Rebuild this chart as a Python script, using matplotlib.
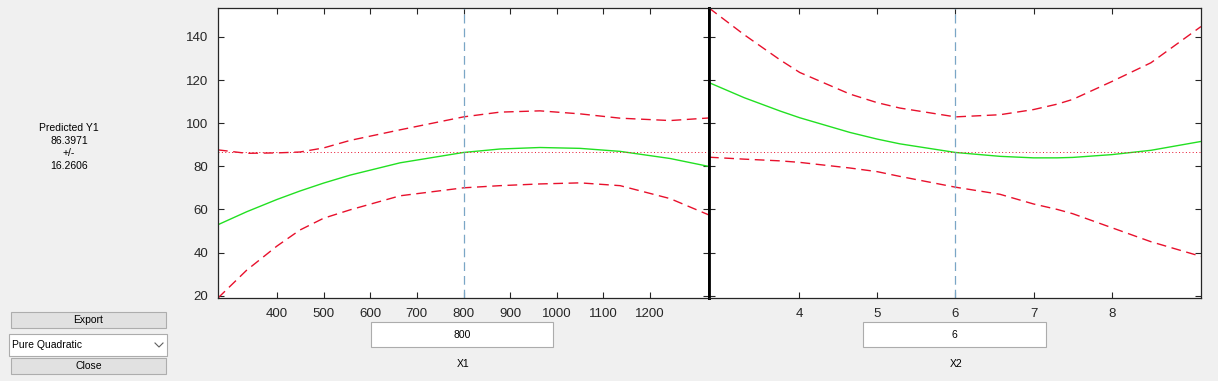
import matplotlib
matplotlib.use("Agg")
import matplotlib.pyplot as plt
from matplotlib.patches import Rectangle
from matplotlib.lines import Line2D

plt.rcParams['font.family'] = ['Liberation Sans', 'DejaVu Sans']

# values (response surface tool, pure quadratic)
x1 = [273.5, 335, 400, 449, 500, 557, 664, 800, 878, 964, 1050, 1136, 1243, 1326.5]
pred1 = [52.9, 58.9, 64.6, 68.5, 72.2, 75.9, 81.6, 86.4, 88.0, 88.7, 88.3, 86.9, 83.6, 79.9]
upper1 = [87.6, 86.0, 86.2, 86.6, 88.5, 92.0, 96.9, 102.9, 105.1, 105.7, 104.3, 102.3, 101.2, 102.4]
lower1 = [18.9, 31.8, 43.0, 50.4, 55.9, 59.8, 66.3, 70.0, 71.0, 71.8, 72.3, 71.0, 65.0, 57.4]

x2 = [2.85, 3.3, 3.76, 4.01, 4.65, 5.0, 5.29, 6.0, 6.57, 7.0, 7.3, 7.5, 8.0, 8.5, 9.14]
pred2 = [118.8, 111.8, 105.6, 102.5, 95.7, 92.6, 90.4, 86.4, 84.6, 83.9, 83.9, 84.1, 85.4, 87.4, 91.5]
upper2 = [153.4, 141.0, 129.3, 123.5, 113.5, 109.5, 107.0, 102.9, 103.9, 106.3, 108.8, 111.0, 119.3, 128.0, 144.8]
lower2 = [84.2, 83.3, 82.5, 81.8, 79.2, 77.5, 75.3, 70.3, 67.0, 62.5, 60.0, 58.0, 51.5, 45.0, 38.2]

x1_ticks = [400, 500, 600, 700, 800, 900, 1000, 1100, 1200]
x2_ticks = [4, 5, 6, 7, 8]
y_ticks = [20, 40, 60, 80, 100, 120, 140]

y_pred = 86.3971
y_ci = 16.2606
x1_cur = 800
x2_cur = 6

W, H = 1218, 381
BG = '#f0f0f0'
TXT = '#262626'


def fx(px):
    return px / W


def fy(py):
    return 1 - py / H


fig = plt.figure(figsize=(W / 100, H / 100), dpi=100, facecolor=BG)


def make_axes(x0, x1p, xlim, xticks, cur, xs, pred, up, lo, left_labels):
    ax = fig.add_axes([fx(x0), fy(298), fx(x1p - x0), (298 - 8) / H])
    ax.set_facecolor('white')
    ax.plot(xs, pred, color='#22e022', lw=1.0)
    ax.plot(xs, up, color='#e8102c', lw=1.0, ls=(0, (7, 4)))
    ax.plot(xs, lo, color='#e8102c', lw=1.0, ls=(0, (7, 4)))
    ax.axhline(y_pred, color='#e8102c', lw=0.7, ls=(0, (1, 2.5)))
    ax.axvline(cur, color='#7aa6c6', lw=0.9, ls=(0, (7, 4)))
    ax.set_xlim(*xlim)
    ax.set_ylim(18.9, 153.4)
    ax.set_xticks(xticks)
    ax.set_yticks(y_ticks)
    ax.tick_params(direction='in', length=4, width=0.8, colors=TXT,
                   top=True, right=True, labelsize=9.5, pad=7,
                   labelleft=left_labels)
    for s in ax.spines.values():
        s.set_color(TXT)
        s.set_linewidth(0.9)
    return ax


ax1 = make_axes(218, 709, (273.5, 1326.5), x1_ticks, x1_cur, x1, pred1, upper1, lower1, True)
ax2 = make_axes(709, 1201, (2.85, 9.14), x2_ticks, x2_cur, x2, pred2, upper2, lower2, False)
ax1.spines['right'].set_linewidth(2.0)
ax1.spines['right'].set_color('black')
ax2.spines['left'].set_linewidth(2.0)
ax2.spines['left'].set_color('black')

# prediction readout
for i, s in enumerate(['Predicted Y1', f'{y_pred:.4f}', '+/-', f'{y_ci:.4f}']):
    fig.text(fx(69), fy(128 + 12.7 * i), s, ha='center', va='center', fontsize=7.5, color='black')


def box(x0, y0, x1p, y1p, face, edge):
    fig.patches.append(Rectangle((fx(x0), fy(y1p)), fx(x1p - x0), (y1p - y0) / H,
                                 transform=fig.transFigure, facecolor=face,
                                 edgecolor=edge, lw=0.8))


# buttons and popup
box(11, 312, 166, 328, '#e1e1e1', '#adadad')
fig.text(fx(88.5), fy(320), 'Export', ha='center', va='center', fontsize=7.5)
box(9, 334, 167, 356, 'white', '#acacac')
fig.text(fx(12), fy(345), 'Pure Quadratic', ha='left', va='center', fontsize=7.5)
fig.add_artist(Line2D([fx(155), fx(159), fx(163)], [fy(343), fy(347), fy(343)],
                      transform=fig.transFigure, color='#606060', lw=0.8))
box(11, 358, 166, 374, '#e1e1e1', '#adadad')
fig.text(fx(88.5), fy(366), 'Close', ha='center', va='center', fontsize=7.5)

# value edit boxes and axis labels
box(371, 322, 553, 347, 'white', '#acacac')
fig.text(fx(462), fy(334.5), str(x1_cur), ha='center', va='center', fontsize=7.5)
fig.text(fx(463), fy(364), 'X1', ha='center', va='center', fontsize=7.5)
box(863, 322, 1046, 347, 'white', '#acacac')
fig.text(fx(954.5), fy(334.5), str(x2_cur), ha='center', va='center', fontsize=7.5)
fig.text(fx(956), fy(364), 'X2', ha='center', va='center', fontsize=7.5)

fig.savefig('out.png', dpi=100, facecolor=BG)
